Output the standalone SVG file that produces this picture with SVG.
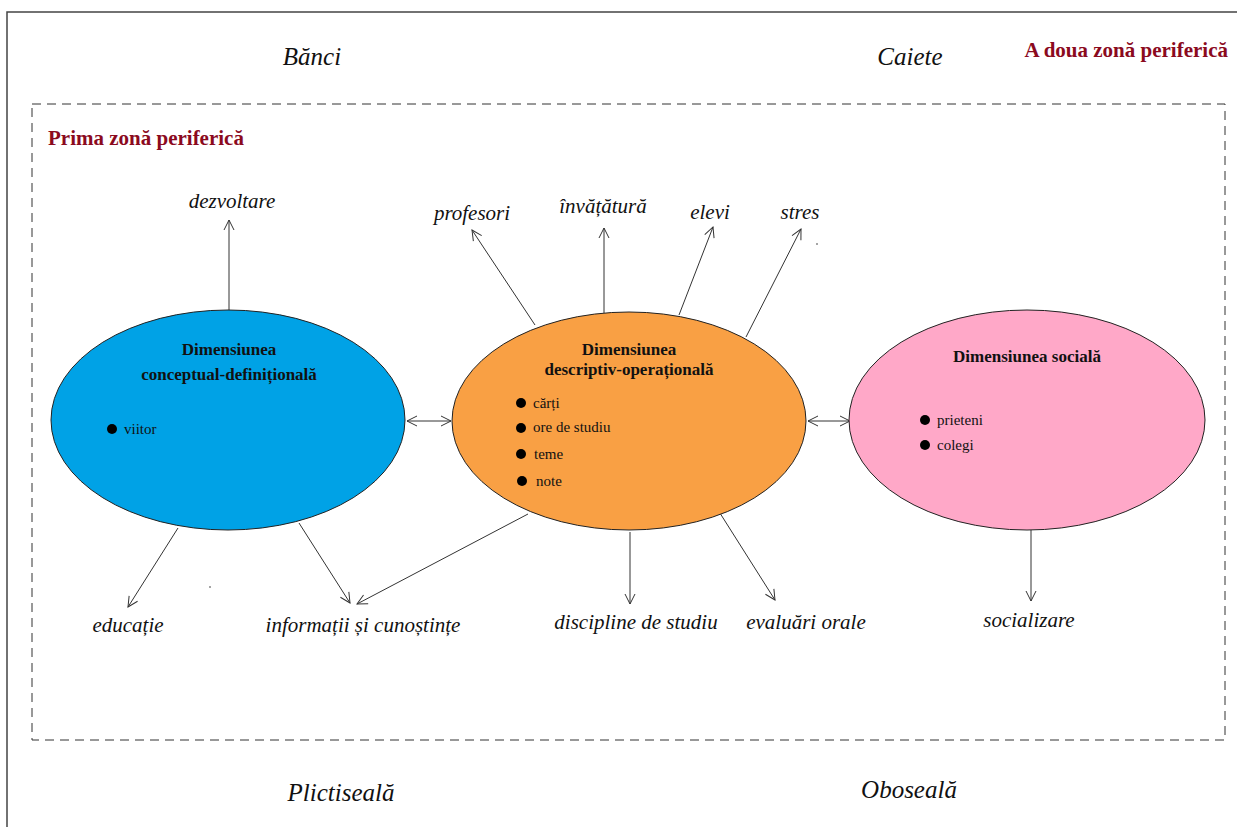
<svg xmlns="http://www.w3.org/2000/svg" width="1237" height="827" viewBox="0 0 1237 827">
<defs>
<marker id="ah" viewBox="0 0 12 12" refX="11" refY="6" markerWidth="12" markerHeight="12" markerUnits="userSpaceOnUse" orient="auto-start-reverse">
<path d="M1,1 L11,6 L1,11" fill="none" stroke="#333" stroke-width="1"/>
</marker>
<style>
.lbl{font-family:"Liberation Serif",serif;font-style:italic;font-size:21px;fill:#111;text-anchor:middle}
.big{font-size:25px}
.zone{font-family:"Liberation Serif",serif;font-weight:bold;font-size:21px;fill:#8B0A1E}
.ttl{font-family:"Liberation Serif",serif;font-weight:bold;font-size:17px;fill:#111;text-anchor:middle}
.itm{font-family:"Liberation Serif",serif;font-size:15px;fill:#111}
.ell{stroke:#222;stroke-width:1}
.con{stroke:#333;stroke-width:1;fill:none;marker-end:url(#ah)}
</style>
</defs>
<rect width="1237" height="827" fill="#fff"/>
<path d="M7,827 V12 H1237" fill="none" stroke="#444" stroke-width="1.5"/>
<rect x="32" y="104" width="1193" height="636" fill="none" stroke="#333" stroke-width="1" stroke-dasharray="9,6"/>
<text class="zone" x="1228" y="57" text-anchor="end">A doua zonă periferică</text>
<text class="zone" x="48" y="145">Prima zonă periferică</text>
<text class="lbl big" x="312" y="65">Bănci</text>
<text class="lbl big" x="910" y="65">Caiete</text>
<text class="lbl big" x="341" y="801">Plictiseală</text>
<text class="lbl big" x="909" y="798">Oboseală</text>

<g id="connectors">
<line class="con" x1="229" y1="310" x2="229" y2="220"/>
<line class="con" x1="535" y1="325" x2="472" y2="230"/>
<line class="con" x1="604" y1="313" x2="604" y2="228"/>
<line class="con" x1="679" y1="315" x2="713" y2="227"/>
<line class="con" x1="746" y1="337" x2="801" y2="229"/>
<line class="con" x1="407" y1="421" x2="451" y2="421" marker-start="url(#ah)"/>
<line class="con" x1="808" y1="421" x2="850" y2="421" marker-start="url(#ah)"/>
<line class="con" x1="178" y1="528" x2="128" y2="607"/>
<line class="con" x1="299" y1="523" x2="350" y2="603"/>
<line class="con" x1="528" y1="514" x2="357" y2="604"/>
<line class="con" x1="630" y1="532" x2="630" y2="604"/>
<line class="con" x1="718" y1="510" x2="775" y2="600"/>
<line class="con" x1="1031" y1="530" x2="1031" y2="601"/>
</g>

<g id="node-conceptual">
<ellipse class="ell" cx="228" cy="420" rx="177" ry="110" fill="#00A2E6"/>
<text class="ttl" x="229" y="355">Dimensiunea</text>
<text class="ttl" x="229" y="380">conceptual-definițională</text>
<circle cx="112" cy="429" r="5" fill="#000"/>
<text class="itm" x="124" y="434">viitor</text>
</g>

<g id="node-descriptiv">
<ellipse class="ell" cx="629" cy="421" rx="177" ry="109" fill="#F9A044"/>
<text class="ttl" x="629" y="355">Dimensiunea</text>
<text class="ttl" x="629" y="375">descriptiv-operațională</text>
<circle cx="521" cy="403" r="5" fill="#000"/>
<text class="itm" x="533" y="408">cărți</text>
<circle cx="521" cy="428" r="5" fill="#000"/>
<text class="itm" x="533" y="432">ore de studiu</text>
<circle cx="521" cy="454" r="5" fill="#000"/>
<text class="itm" x="534" y="459">teme</text>
<circle cx="522" cy="481" r="5" fill="#000"/>
<text class="itm" x="536" y="486">note</text>
</g>

<g id="node-social">
<ellipse class="ell" cx="1027" cy="420" rx="178" ry="110" fill="#FFA8C8"/>
<text class="ttl" x="1027" y="362">Dimensiunea socială</text>
<circle cx="925" cy="420" r="5" fill="#000"/>
<text class="itm" x="937" y="425">prieteni</text>
<circle cx="925" cy="445" r="5" fill="#000"/>
<text class="itm" x="937" y="450">colegi</text>
</g>

<g id="labels">
<text class="lbl" x="232" y="208">dezvoltare</text>
<text class="lbl" x="472" y="220">profesori</text>
<text class="lbl" x="603" y="213">învățătură</text>
<text class="lbl" x="710" y="219">elevi</text>
<text class="lbl" x="800" y="219">stres</text>
<text class="lbl" x="128" y="632">educație</text>
<text class="lbl" x="363" y="632">informații și cunoștințe</text>
<text class="lbl" x="636" y="629">discipline de studiu</text>
<text class="lbl" x="806" y="629">evaluări orale</text>
<text class="lbl" x="1029" y="627">socializare</text>
</g>
<circle cx="817" cy="244" r="0.8" fill="#333"/>
<circle cx="210" cy="587" r="0.8" fill="#333"/>
</svg>
